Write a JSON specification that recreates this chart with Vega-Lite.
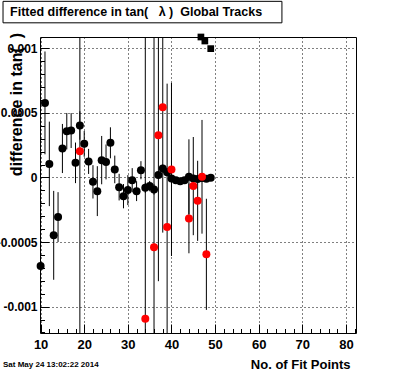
{
  "$schema": "https://vega.github.io/schema/vega-lite/v6.json",
  "width": 316,
  "height": 296,
  "autosize": "none",
  "padding": {"left": 40, "top": 37, "right": 40, "bottom": 39},
  "background": "white",
  "config": {
    "font": "Liberation Sans",
    "view": {"stroke": "black", "strokeWidth": 1},
    "axis": {
      "domain": false,
      "grid": true,
      "gridColor": "black",
      "gridDash": [1, 3],
      "gridWidth": 1,
      "tickColor": "black",
      "tickWidth": 1,
      "labelColor": "black",
      "labelFont": "Liberation Sans",
      "labelFontWeight": "bold",
      "labelOverlap": false,
      "labelFlush": false,
      "titleFont": "Liberation Sans",
      "titleFontWeight": "bold",
      "titleColor": "black",
      "titleFontSize": 13
    }
  },
  "data": {
    "values": [
      {"n": 10, "v": -0.000686, "e": 0.00002, "s": "A"},
      {"n": 11, "v": 0.000577, "e": 0.000398, "s": "A"},
      {"n": 12, "v": 0.000105, "e": 0.000327, "s": "A"},
      {"n": 13, "v": -0.000448, "e": 0.000344, "s": "A"},
      {"n": 14, "v": -0.000307, "e": 0.000193, "s": "A"},
      {"n": 15, "v": 0.000224, "e": 0.00019, "s": "A"},
      {"n": 16, "v": 0.000358, "e": 0.000141, "s": "A"},
      {"n": 17, "v": 0.000363, "e": 0.000135, "s": "A"},
      {"n": 18, "v": 0.000113, "e": 0.000157, "s": "A"},
      {"n": 19, "v": 0.000402, "e": 0.00011, "s": "A"},
      {"n": 20, "v": 0.00026, "e": 0.0001, "s": "A"},
      {"n": 21, "v": 0.000124, "e": 0.000097, "s": "A"},
      {"n": 22, "v": -0.000034, "e": 0.000129, "s": "A"},
      {"n": 23, "v": -0.000106, "e": 0.000193, "s": "A"},
      {"n": 24, "v": 0.000134, "e": 0.000187, "s": "A"},
      {"n": 25, "v": 0.00012, "e": 0.000135, "s": "A"},
      {"n": 26, "v": 0.000268, "e": 0.00012, "s": "A"},
      {"n": 27, "v": 0.000062, "e": 0.000107, "s": "A"},
      {"n": 28, "v": -0.000075, "e": 0.000103, "s": "A"},
      {"n": 29, "v": -0.000145, "e": 0.000094, "s": "A"},
      {"n": 30, "v": -0.000098, "e": 0.000116, "s": "A"},
      {"n": 31, "v": -0.000021, "e": 0.000093, "s": "A"},
      {"n": 32, "v": -0.000106, "e": 0.000077, "s": "A"},
      {"n": 33, "v": 0.000056, "e": 0.00007, "s": "A"},
      {"n": 34, "v": -0.00008, "e": 0.00004, "s": "A"},
      {"n": 35, "v": -0.000067, "e": 0.00004, "s": "A"},
      {"n": 36, "v": -0.000093, "e": 0.00004, "s": "A"},
      {"n": 37, "v": 0.000018, "e": 0.00003, "s": "A"},
      {"n": 38, "v": 0.00007, "e": 0.00003, "s": "A"},
      {"n": 39, "v": 0.00004, "e": 0.00003, "s": "A"},
      {"n": 40, "v": -0.000008, "e": 0.00002, "s": "A"},
      {"n": 41, "v": -0.000021, "e": 0.00002, "s": "A"},
      {"n": 42, "v": -0.000029, "e": 0.00002, "s": "A"},
      {"n": 43, "v": -0.000021, "e": 0.00002, "s": "A"},
      {"n": 44, "v": 0.000005, "e": 0.00029, "s": "A"},
      {"n": 45, "v": -0.000008, "e": 0.00002, "s": "A"},
      {"n": 46, "v": -0.000013, "e": 0.00002, "s": "A"},
      {"n": 47, "v": -0.000005, "e": 0.00002, "s": "A"},
      {"n": 48, "v": -0.000011, "e": 0.00002, "s": "A"},
      {"n": 49, "v": -0.000003, "e": 0.00002, "s": "A"},
      {"n": 19, "v": 0.000203, "e": 0.002, "s": "B"},
      {"n": 34, "v": -0.001093, "e": 0.0025, "s": "B"},
      {"n": 36, "v": -0.000541, "e": 0.002, "s": "B"},
      {"n": 37, "v": 0.000327, "e": 0.00113, "s": "B"},
      {"n": 38, "v": 0.000543, "e": 0.00097, "s": "B"},
      {"n": 39, "v": -0.000384, "e": 0.00111, "s": "B"},
      {"n": 40, "v": 0.000062, "e": 0.00067, "s": "B"},
      {"n": 44, "v": -0.000317, "e": 0.00027, "s": "B"},
      {"n": 45, "v": -0.000067, "e": 0.00038, "s": "B"},
      {"n": 46, "v": -0.000181, "e": 0.00031, "s": "B"},
      {"n": 47, "v": 0.000005, "e": 0.00044, "s": "B"},
      {"n": 48, "v": -0.000595, "e": 0.00043, "s": "B"},
      {"n": 46.75, "v": 0.001087, "e": 0, "s": "C"},
      {"n": 47.65, "v": 0.001056, "e": 0, "s": "C"},
      {"n": 49.0, "v": 0.000997, "e": 0, "s": "C"}
    ]
  },
  "layer": [
    {
      "encoding": {
        "x": {
          "field": "n",
          "type": "quantitative",
          "title": "No. of Fit Points",
          "scale": {"domain": [9.86, 82.3], "nice": false, "zero": false},
          "axis": {
            "values": [10, 12, 14, 16, 18, 20, 22, 24, 26, 28, 30, 32, 34, 36, 38, 40, 42, 44, 46, 48, 50, 52, 54, 56, 58, 60, 62, 64, 66, 68, 70, 72, 74, 76, 78, 80, 82],
            "tickSize": {"condition": {"test": "datum.value % 10 === 0", "value": -9}, "value": -4.5},
            "gridOpacity": {"condition": {"test": "datum.value % 10 === 0", "value": 1}, "value": 0},
            "labelExpr": "datum.value % 10 === 0 ? datum.label : ''",
            "labelFontSize": 13,
            "labelPadding": 14,
            "titleX": 310,
            "titleY": 35,
            "titleAlign": "right",
            "titleBaseline": "alphabetic"
          }
        },
        "y": {
          "field": "v",
          "type": "quantitative",
          "title": "difference in tan(\u00a0\u00a0)",
          "scale": {"domain": [-0.001204, 0.001087], "nice": false, "zero": false},
          "axis": {
            "values": [-0.0012, -0.0011, -0.001, -0.0009, -0.0008, -0.0007, -0.0006, -0.0005, -0.0004, -0.0003, -0.0002, -0.0001, 0, 0.0001, 0.0002, 0.0003, 0.0004, 0.0005, 0.0006, 0.0007, 0.0008, 0.0009, 0.001],
            "tickSize": {"condition": {"test": "abs(datum.value*2000 - round(datum.value*2000)) < 0.01", "value": -9}, "value": -4.5},
            "gridOpacity": {"condition": {"test": "abs(datum.value*2000 - round(datum.value*2000)) < 0.01", "value": 1}, "value": 0},
            "labelExpr": "abs(datum.value*2000 - round(datum.value*2000)) < 0.01 ? replace(format(datum.value, '~g'), '\u2212', '-') : ''",
            "labelFontSize": 12,
            "labelPadding": 12,
            "titleFontSize": 16,
            "titleAngle": 270,
            "titleX": -18.5,
            "titleY": -4.5,
            "titleAlign": "right",
            "titleBaseline": "alphabetic"
          }
        }
      },
      "layer": [
        {
          "transform": [{"filter": "datum.s === 'A'"}],
          "mark": {"type": "errorbar", "color": "black", "thickness": 1},
          "encoding": {"yError": {"field": "e"}}
        },
        {
          "transform": [{"filter": "datum.s === 'A'"}],
          "mark": {"type": "point", "shape": "circle", "filled": true, "color": "black", "opacity": 1, "size": 64}
        },
        {
          "transform": [{"filter": "datum.s === 'B'"}],
          "mark": {"type": "errorbar", "color": "black", "thickness": 1, "clip": true},
          "encoding": {"yError": {"field": "e"}}
        },
        {
          "transform": [{"filter": "datum.s === 'B'"}],
          "mark": {"type": "point", "shape": "circle", "filled": true, "color": "#ff0000", "opacity": 1, "size": 64}
        },
        {
          "transform": [{"filter": "datum.s === 'C'"}],
          "mark": {"type": "point", "shape": "square", "filled": true, "color": "black", "opacity": 1, "size": 45}
        }
      ]
    },
    {
      "data": {"values": [{"label": "Fitted difference in tan(\u00a0\u00a0\u00a0λ\u00a0)\u00a0\u00a0Global Tracks"}]},
      "mark": {"type": "rect", "fill": "white", "stroke": "black", "strokeWidth": 1},
      "encoding": {
        "x": {
          "datum": 1.384,
          "type": "quantitative",
          "title": "No. of Fit Points",
          "scale": {"domain": [9.86, 82.3], "nice": false, "zero": false},
          "axis": {
            "values": [10, 12, 14, 16, 18, 20, 22, 24, 26, 28, 30, 32, 34, 36, 38, 40, 42, 44, 46, 48, 50, 52, 54, 56, 58, 60, 62, 64, 66, 68, 70, 72, 74, 76, 78, 80, 82],
            "tickSize": {"condition": {"test": "datum.value % 10 === 0", "value": -9}, "value": -4.5},
            "gridOpacity": {"condition": {"test": "datum.value % 10 === 0", "value": 1}, "value": 0},
            "labelExpr": "datum.value % 10 === 0 ? datum.label : ''",
            "labelFontSize": 13,
            "labelPadding": 14,
            "titleX": 310,
            "titleY": 35,
            "titleAlign": "right",
            "titleBaseline": "alphabetic"
          }
        },
        "x2": {"datum": 65.32},
        "y": {
          "datum": 0.001363,
          "type": "quantitative",
          "title": "difference in tan(\u00a0\u00a0)",
          "scale": {"domain": [-0.001204, 0.001087], "nice": false, "zero": false},
          "axis": {
            "values": [-0.0012, -0.0011, -0.001, -0.0009, -0.0008, -0.0007, -0.0006, -0.0005, -0.0004, -0.0003, -0.0002, -0.0001, 0, 0.0001, 0.0002, 0.0003, 0.0004, 0.0005, 0.0006, 0.0007, 0.0008, 0.0009, 0.001],
            "tickSize": {"condition": {"test": "abs(datum.value*2000 - round(datum.value*2000)) < 0.01", "value": -9}, "value": -4.5},
            "gridOpacity": {"condition": {"test": "abs(datum.value*2000 - round(datum.value*2000)) < 0.01", "value": 1}, "value": 0},
            "labelExpr": "abs(datum.value*2000 - round(datum.value*2000)) < 0.01 ? replace(format(datum.value, '~g'), '\u2212', '-') : ''",
            "labelFontSize": 12,
            "labelPadding": 12,
            "titleFontSize": 16,
            "titleAngle": 270,
            "titleX": -18.5,
            "titleY": -4.5,
            "titleAlign": "right",
            "titleBaseline": "alphabetic"
          }
        },
        "y2": {"datum": 0.0011967}
      }
    },
    {
      "data": {"values": [{"label": "Fitted difference in tan(\u00a0\u00a0\u00a0λ\u00a0)\u00a0\u00a0Global Tracks"}]},
      "mark": {"type": "text", "align": "left", "baseline": "alphabetic", "font": "Liberation Sans", "fontWeight": "bold", "fontSize": 12.5, "color": "black"},
      "encoding": {
        "x": {
          "datum": 2.99,
          "type": "quantitative",
          "title": "No. of Fit Points",
          "scale": {"domain": [9.86, 82.3], "nice": false, "zero": false},
          "axis": {
            "values": [10, 12, 14, 16, 18, 20, 22, 24, 26, 28, 30, 32, 34, 36, 38, 40, 42, 44, 46, 48, 50, 52, 54, 56, 58, 60, 62, 64, 66, 68, 70, 72, 74, 76, 78, 80, 82],
            "tickSize": {"condition": {"test": "datum.value % 10 === 0", "value": -9}, "value": -4.5},
            "gridOpacity": {"condition": {"test": "datum.value % 10 === 0", "value": 1}, "value": 0},
            "labelExpr": "datum.value % 10 === 0 ? datum.label : ''",
            "labelFontSize": 13,
            "labelPadding": 14,
            "titleX": 310,
            "titleY": 35,
            "titleAlign": "right",
            "titleBaseline": "alphabetic"
          }
        },
        "y": {
          "datum": 0.001247,
          "type": "quantitative",
          "title": "difference in tan(\u00a0\u00a0)",
          "scale": {"domain": [-0.001204, 0.001087], "nice": false, "zero": false},
          "axis": {
            "values": [-0.0012, -0.0011, -0.001, -0.0009, -0.0008, -0.0007, -0.0006, -0.0005, -0.0004, -0.0003, -0.0002, -0.0001, 0, 0.0001, 0.0002, 0.0003, 0.0004, 0.0005, 0.0006, 0.0007, 0.0008, 0.0009, 0.001],
            "tickSize": {"condition": {"test": "abs(datum.value*2000 - round(datum.value*2000)) < 0.01", "value": -9}, "value": -4.5},
            "gridOpacity": {"condition": {"test": "abs(datum.value*2000 - round(datum.value*2000)) < 0.01", "value": 1}, "value": 0},
            "labelExpr": "abs(datum.value*2000 - round(datum.value*2000)) < 0.01 ? replace(format(datum.value, '~g'), '\u2212', '-') : ''",
            "labelFontSize": 12,
            "labelPadding": 12,
            "titleFontSize": 16,
            "titleAngle": 270,
            "titleX": -18.5,
            "titleY": -4.5,
            "titleAlign": "right",
            "titleBaseline": "alphabetic"
          }
        },
        "text": {"field": "label"}
      }
    },
    {
      "data": {"values": [{"label": "Sat May 24 13:02:22 2014"}]},
      "mark": {"type": "text", "align": "left", "baseline": "alphabetic", "font": "Liberation Sans", "fontWeight": "bold", "fontSize": 8, "color": "black"},
      "encoding": {
        "x": {
          "datum": 1.384,
          "type": "quantitative",
          "title": "No. of Fit Points",
          "scale": {"domain": [9.86, 82.3], "nice": false, "zero": false},
          "axis": {
            "values": [10, 12, 14, 16, 18, 20, 22, 24, 26, 28, 30, 32, 34, 36, 38, 40, 42, 44, 46, 48, 50, 52, 54, 56, 58, 60, 62, 64, 66, 68, 70, 72, 74, 76, 78, 80, 82],
            "tickSize": {"condition": {"test": "datum.value % 10 === 0", "value": -9}, "value": -4.5},
            "gridOpacity": {"condition": {"test": "datum.value % 10 === 0", "value": 1}, "value": 0},
            "labelExpr": "datum.value % 10 === 0 ? datum.label : ''",
            "labelFontSize": 13,
            "labelPadding": 14,
            "titleX": 310,
            "titleY": 35,
            "titleAlign": "right",
            "titleBaseline": "alphabetic"
          }
        },
        "y": {
          "datum": -0.0014666,
          "type": "quantitative",
          "title": "difference in tan(\u00a0\u00a0)",
          "scale": {"domain": [-0.001204, 0.001087], "nice": false, "zero": false},
          "axis": {
            "values": [-0.0012, -0.0011, -0.001, -0.0009, -0.0008, -0.0007, -0.0006, -0.0005, -0.0004, -0.0003, -0.0002, -0.0001, 0, 0.0001, 0.0002, 0.0003, 0.0004, 0.0005, 0.0006, 0.0007, 0.0008, 0.0009, 0.001],
            "tickSize": {"condition": {"test": "abs(datum.value*2000 - round(datum.value*2000)) < 0.01", "value": -9}, "value": -4.5},
            "gridOpacity": {"condition": {"test": "abs(datum.value*2000 - round(datum.value*2000)) < 0.01", "value": 1}, "value": 0},
            "labelExpr": "abs(datum.value*2000 - round(datum.value*2000)) < 0.01 ? replace(format(datum.value, '~g'), '\u2212', '-') : ''",
            "labelFontSize": 12,
            "labelPadding": 12,
            "titleFontSize": 16,
            "titleAngle": 270,
            "titleX": -18.5,
            "titleY": -4.5,
            "titleAlign": "right",
            "titleBaseline": "alphabetic"
          }
        },
        "text": {"field": "label"}
      }
    }
  ]
}
